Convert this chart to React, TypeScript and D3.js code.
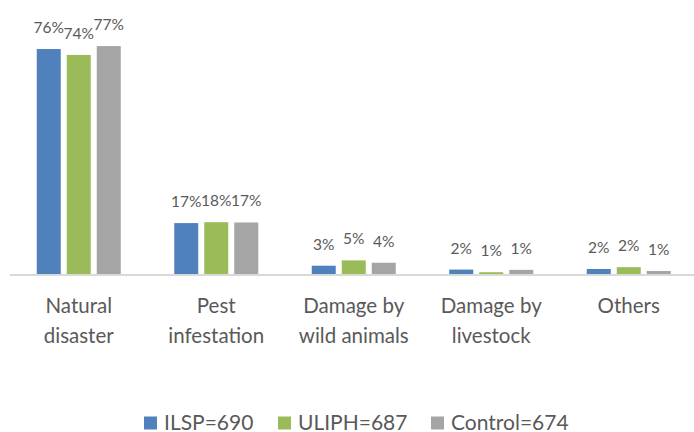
import React from "react";
import * as d3 from "d3";

const categories: string[][] = [
  ["Natural", "disaster"],
  ["Pest", "infestation"],
  ["Damage by", "wild animals"],
  ["Damage by", "livestock"],
  ["Others"],
];
const seriesNames = ["ILSP=690", "ULIPH=687", "Control=674"];
const ilsp = [76, 17.2, 2.8, 1.5, 1.7];
const uliph = [74, 17.5, 4.6, 0.6, 2.3];
const control = [77, 17.4, 3.8, 1.4, 1.0];
const colors = ["#4f81bd", "#9bbb59", "#a5a5a5"];

const W = 694;
const H = 432;
const FONT = "Lato, 'Open Sans', sans-serif";
const TEXT = "#595959";

export default function App() {
  const series = [ilsp, uliph, control];
  const catKeys = categories.map((c) => c.join(" "));
  const x0 = d3
    .scaleBand<string>()
    .domain(catKeys)
    .range([10, 697.5])
    .paddingInner(0.389)
    .paddingOuter(0.1945);
  const x1 = d3
    .scaleBand<string>()
    .domain(seriesNames)
    .range([0, x0.bandwidth()])
    .paddingInner(0.2);
  const y = d3.scaleLinear().domain([0, 80]).range([274, 37.2]);

  const legendX = [144, 278, 431];

  return (
    <svg
      width={W}
      height={H}
      style={{ position: "absolute", left: 0, top: 0, background: "#fff" }}
      fontFamily={FONT}
    >
      {catKeys.map((ck, ci) => (
        <g key={ck}>
          {series.map((vals, si) => {
            const bx = (x0(ck) ?? 0) + (x1(seriesNames[si]) ?? 0);
            const v = vals[ci];
            return (
              <g key={si}>
                <rect
                  x={bx}
                  y={y(v)}
                  width={x1.bandwidth()}
                  height={y(0) - y(v)}
                  fill={colors[si]}
                />
                <text
                  x={bx + x1.bandwidth() / 2}
                  y={y(v) - 16}
                  textAnchor="middle"
                  fontSize={15.5}
                  fill={TEXT}
                >
                  {Math.round(v)}%
                </text>
              </g>
            );
          })}
          {categories[ci].map((line, li) => (
            <text
              key={li}
              x={(x0(ck) ?? 0) + x0.bandwidth() / 2}
              y={312.5 + li * 30}
              textAnchor="middle"
              fontSize={20.5}
              fill={TEXT}
            >
              {line}
            </text>
          ))}
        </g>
      ))}
      <line x1={10} x2={W} y1={275} y2={275} stroke="#d9d9d9" strokeWidth={2} />
      {seriesNames.map((name, si) => (
        <g key={name}>
          <rect x={legendX[si]} y={416.5} width={13} height={13} fill={colors[si]} />
          <text x={legendX[si] + 20} y={429.5} fontSize={21} fill={TEXT}>
            {name}
          </text>
        </g>
      ))}
    </svg>
  );
}
